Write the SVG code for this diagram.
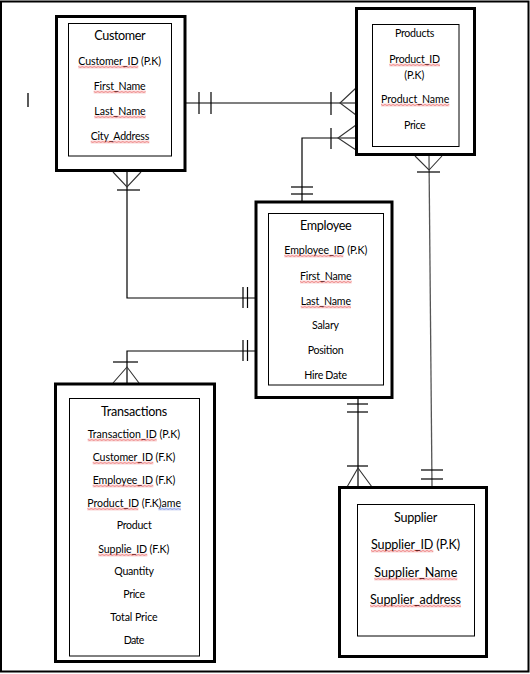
<svg xmlns="http://www.w3.org/2000/svg" width="530" height="674" viewBox="0 0 530 674">
<style>
text{font-family:Lato,"Liberation Sans",sans-serif;fill:#000}
.t13{font-size:12.6px}
.t11{font-size:10.6px}
.outer{fill:none;stroke:#000;stroke-width:3}
.inner{fill:none;stroke:#000;stroke-width:1}
.ln{fill:none;stroke:#000;stroke-width:1.2}
.cf{fill:none;stroke:#333;stroke-width:1.1}
.sq{fill:url(#sq)}
.sqb{fill:url(#sqb)}
</style>
<defs>
<pattern id="sq" width="4" height="3" patternUnits="userSpaceOnUse"><path d="M0,0.6 L2,2.4 L4,0.6" fill="none" stroke="#e02020" stroke-width="0.9"/></pattern>
<pattern id="sqb" width="4" height="3" patternUnits="userSpaceOnUse"><path d="M0,0.6 L2,2.4 L4,0.6" fill="none" stroke="#3050d0" stroke-width="0.9"/></pattern>
</defs>
<rect width="530" height="674" fill="#fff"/>
<rect x="1" y="1.5" width="527.5" height="670" fill="none" stroke="#000" stroke-width="2"/>
<line x1="28" y1="93" x2="28" y2="107" stroke="#000" stroke-width="1.3"/>

<g id="connectors">
  <!-- Customer - Products -->
  <line class="ln" x1="186" y1="103" x2="355" y2="103"/>
  <line class="ln" x1="199" y1="92" x2="199" y2="114"/>
  <line class="ln" x1="211" y1="92" x2="211" y2="114"/>
  <line class="ln" x1="331" y1="92" x2="331" y2="115"/>
  <path class="cf" d="M356,88 L340,103 L356,115"/>
  <!-- Employee - Products -->
  <polyline class="ln" points="302,201 302,138 355,138"/>
  <line class="ln" x1="291" y1="187" x2="313" y2="187"/>
  <line class="ln" x1="291" y1="194" x2="313" y2="194"/>
  <line class="ln" x1="331" y1="128" x2="331" y2="149"/>
  <path class="cf" d="M356,125 L338,138 L356,150"/>
  <!-- Customer - Employee -->
  <polyline class="ln" points="127,172 127,298 255,298"/>
  <path class="cf" d="M113,172 L127,187 L141,172"/>
  <line class="ln" x1="117" y1="190" x2="140" y2="190"/>
  <line class="ln" x1="243" y1="287" x2="243" y2="308"/>
  <line class="ln" x1="247.5" y1="287" x2="247.5" y2="308"/>
  <!-- Transactions - Employee -->
  <polyline class="ln" points="127,383 127,351 255,351"/>
  <path class="cf" d="M113,383 L127,367 L139,383"/>
  <line class="ln" x1="113" y1="362" x2="138" y2="362"/>
  <line class="ln" x1="243" y1="340" x2="243" y2="361"/>
  <line class="ln" x1="247.5" y1="340" x2="247.5" y2="361"/>
  <!-- Employee - Supplier -->
  <line class="ln" x1="358" y1="399" x2="358" y2="486"/>
  <line class="ln" x1="347" y1="404" x2="368" y2="404"/>
  <line class="ln" x1="347" y1="412" x2="368" y2="412"/>
  <line class="ln" x1="347" y1="466" x2="368" y2="466"/>
  <path class="cf" d="M347,487 L358,468 L372,487"/>
  <!-- Products - Supplier -->
  <line x1="429" y1="156" x2="432" y2="486" stroke="#555" stroke-width="1.3"/>
  <path class="cf" d="M415,156 L429,170 L442,156"/>
  <line class="ln" x1="417" y1="172" x2="440" y2="172"/>
  <line class="ln" x1="421" y1="470" x2="443" y2="470"/>
  <line class="ln" x1="421" y1="479" x2="443" y2="479"/>
</g>

<g id="customer">
  <rect class="outer" x="56.5" y="16.5" width="128.5" height="154"/>
  <rect class="inner" x="68.5" y="23.5" width="103" height="132.5"/>
  <text class="t13" x="94.3" y="39.5" textLength="51.4">Customer</text>
  <text class="t11" x="78.3" y="65" textLength="82.7">Customer_ID (P.K)</text>
  <text class="t11" x="93.7" y="90" textLength="52">First_Name</text>
  <text class="t11" x="94.3" y="115" textLength="51.4">Last_Name</text>
  <text class="t11" x="90.7" y="140" textLength="58.6">City_Address</text>
  <rect class="sq" transform="translate(78.3,65.5)" width="60" height="3"/>
  <rect class="sq" transform="translate(93.7,90.5)" width="52" height="3"/>
  <rect class="sq" transform="translate(94.3,115.5)" width="51.4" height="3"/>
  <rect class="sq" transform="translate(90.7,140.5)" width="58.6" height="3"/>
</g>

<g id="products">
  <rect class="outer" x="356.5" y="8.5" width="118" height="146"/>
  <rect class="inner" x="372.5" y="24.5" width="86.5" height="122"/>
  <text class="t11" x="395" y="37" textLength="39.3">Products</text>
  <text class="t11" x="389.3" y="63" textLength="50.7">Product_ID</text>
  <text class="t11" x="404.3" y="79" textLength="20">(P.K)</text>
  <text class="t11" x="381" y="103" textLength="68.3">Product_Name</text>
  <text class="t11" x="404" y="129" textLength="21.7">Price</text>
  <rect class="sq" transform="translate(389.3,63.5)" width="50.7" height="3"/>
  <rect class="sq" transform="translate(381,103.5)" width="68.3" height="3"/>
</g>

<g id="employee">
  <rect class="outer" x="256" y="202" width="136" height="195.5"/>
  <rect class="inner" x="268.5" y="213.5" width="115" height="171.5"/>
  <text class="t13" x="300" y="229.5" textLength="51.7">Employee</text>
  <text class="t11" x="284.3" y="254" textLength="83">Employee_ID (P.K)</text>
  <text class="t11" x="300" y="280" textLength="51.7">First_Name</text>
  <text class="t11" x="300.7" y="305" textLength="50.3">Last_Name</text>
  <text class="t11" x="312" y="329" textLength="27">Salary</text>
  <text class="t11" x="307.7" y="354" textLength="36">Position</text>
  <text class="t11" x="304.3" y="379" textLength="42.7">Hire Date</text>
  <rect class="sq" transform="translate(284.3,254.5)" width="59" height="3"/>
  <rect class="sq" transform="translate(300,280.5)" width="51.7" height="3"/>
  <rect class="sq" transform="translate(300.7,305.5)" width="50.3" height="3"/>
</g>

<g id="transactions">
  <rect class="outer" x="55.5" y="384" width="159" height="277.5"/>
  <rect class="inner" x="69.5" y="398.5" width="130" height="257.5"/>
  <text class="t13" x="101" y="415.5" textLength="66.3">Transactions</text>
  <text class="t11" x="87.7" y="438" textLength="92.3">Transaction_ID (P.K)</text>
  <text class="t11" x="92.7" y="461" textLength="82.6">Customer_ID (F.K)</text>
  <text class="t11" x="92.7" y="484" textLength="82.6">Employee_ID (F.K)</text>
  <text class="t11" x="87.3" y="507" textLength="93.7">Product_ID (F.K)ame</text>
  <text class="t11" x="116.7" y="529" textLength="35">Product</text>
  <text class="t11" x="98.3" y="553" textLength="71">Supplie_ID (F.K)</text>
  <text class="t11" x="114.3" y="575" textLength="39.7">Quantity</text>
  <text class="t11" x="123.3" y="598" textLength="21.7">Price</text>
  <text class="t11" x="110.3" y="621" textLength="47.4">Total Price</text>
  <text class="t11" x="123.7" y="644" textLength="20.6">Date</text>
  <rect class="sq" transform="translate(87.7,438.5)" width="69" height="3"/>
  <rect class="sq" transform="translate(92.7,461.5)" width="60.6" height="3"/>
  <rect class="sq" transform="translate(92.7,484.5)" width="60.6" height="3"/>
  <rect class="sq" transform="translate(87.3,507.5)" width="51" height="3"/>
  <rect class="sqb" transform="translate(158.3,507.5)" width="22.7" height="3"/>
  <rect class="sq" transform="translate(98.3,553.5)" width="49" height="3"/>
</g>

<g id="supplier">
  <rect class="outer" x="339.5" y="487.5" width="147" height="169"/>
  <rect class="inner" x="357.5" y="504.5" width="117" height="131.5"/>
  <text class="t13" x="394" y="521.5" textLength="43.3">Supplier</text>
  <text class="t13" x="371" y="548.5" textLength="89">Supplier_ID (P.K)</text>
  <text class="t13" x="374.3" y="576.5" textLength="83">Supplier_Name</text>
  <text class="t13" x="370" y="603.5" textLength="91">Supplier_address</text>
  <rect class="sq" transform="translate(371,549.5)" width="62.3" height="3"/>
  <rect class="sq" transform="translate(374.3,577.5)" width="83" height="3"/>
  <rect class="sq" transform="translate(370,604.5)" width="91" height="3"/>
</g>
</svg>
